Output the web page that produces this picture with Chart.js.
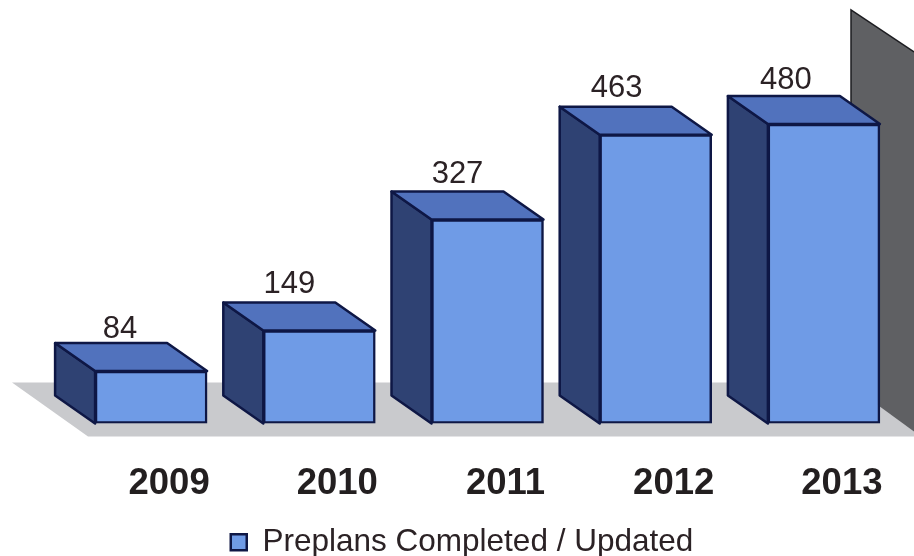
<!DOCTYPE html>
<html>
<head>
<meta charset="utf-8">
<title>Preplans</title>
<style>
  html, body { margin: 0; padding: 0; background: #fff; }
  canvas { display: block; }
</style>
<script src="https://cdn.jsdelivr.net/npm/chart.js@4/dist/chart.umd.min.js"></script>
</head>
<body>
<canvas id="myChart" width="914" height="556"></canvas>
<script>
const years = ["2009", "2010", "2011", "2012", "2013"];
const preplans = [84, 149, 327, 463, 480];
const seriesName = "Preplans Completed / Updated";

// how far the box goes back, in pixels
const depthX = 40;
const depthY = 28;
// the labels are not quite in line in the original
const labelShift = [-31, -30, -30, -39, -38];
const labelRaise = [14, 18, 17, 18, 16];

function poly(ctx, pts) {
  ctx.beginPath();
  pts.forEach((p, i) => (i ? ctx.lineTo(p[0], p[1]) : ctx.moveTo(p[0], p[1])));
  ctx.closePath();
}

const stage = {
  id: "stage",
  afterLayout(chart) {
    // legend sits lower than the layout wants to put it
    chart.legend.top += 12;
    chart.legend.bottom += 12;
  },
  beforeDatasetsDraw(chart) {
    const ctx = chart.ctx;
    const a = chart.chartArea;
    ctx.save();
    // floor
    ctx.fillStyle = "#c9cacd";
    poly(ctx, [[a.left - 55, a.bottom - 41], [914, a.bottom - 41], [914, a.bottom + 13], [a.left + 21, a.bottom + 13]]);
    ctx.fill();
    // back wall
    ctx.fillStyle = "#5f6063";
    poly(ctx, [[a.right - 57, a.top - 8], [914, a.top + 34], [914, a.bottom + 8], [a.right - 57, a.bottom - 38]]);
    ctx.fill();
    ctx.strokeStyle = "#1c1c20";
    ctx.lineWidth = 1.5;
    ctx.beginPath();
    ctx.moveTo(914, a.top + 34);
    ctx.lineTo(a.right - 57, a.top - 8);
    ctx.lineTo(a.right - 57, a.bottom - 40);
    ctx.stroke();
    ctx.restore();
  },
  afterDatasetsDraw(chart) {
    const ctx = chart.ctx;
    ctx.save();
    ctx.lineJoin = "round";
    ctx.strokeStyle = "#0e1745";
    ctx.lineWidth = 2.5;
    chart.getDatasetMeta(0).data.forEach((bar, i) => {
      const l = bar.x - bar.width / 2;
      const r = bar.x + bar.width / 2;
      const t = bar.y;
      const b = bar.base;
      // left side
      poly(ctx, [[l, t], [l - depthX, t - depthY], [l - depthX, b - depthY], [l, b]]);
      ctx.fillStyle = "#2f4273";
      ctx.fill();
      ctx.stroke();
      // top
      poly(ctx, [[l, t], [l - depthX, t - depthY], [r - depthX, t - depthY], [r, t]]);
      ctx.fillStyle = "#5172bd";
      ctx.fill();
      ctx.stroke();
      // value
      ctx.fillStyle = "#2b2225";
      ctx.font = "31px 'Liberation Sans'";
      ctx.textAlign = "center";
      ctx.textBaseline = "middle";
      ctx.fillText(preplans[i], bar.x + labelShift[i], t - depthY - labelRaise[i]);
    });
    ctx.restore();
  },
};

new Chart(document.getElementById("myChart").getContext("2d"), {
  type: "bar",
  data: {
    labels: years,
    datasets: [
      {
        label: seriesName,
        data: preplans,
        backgroundColor: "#6f9be6",
        borderColor: "#0e1745",
        borderWidth: 2.5,
        borderSkipped: false,
        barThickness: 112,
      },
    ],
  },
  plugins: [stage],
  options: {
    responsive: false,
    animation: false,
    layout: { padding: { left: 16, right: 6, top: 18, bottom: 0 } },
    plugins: {
      tooltip: { enabled: false },
      legend: {
        position: "bottom",
        labels: {
          color: "#2b2225",
          font: { family: "'Liberation Sans'", size: 31.5, lineHeight: 1 },
          boxWidth: 16,
          boxHeight: 16,
          padding: 0,
        },
      },
    },
    scales: {
      x: {
        grid: { display: false },
        border: { display: false },
        ticks: {
          color: "#231f20",
          font: { family: "'Liberation Sans'", size: 36.5, weight: "bold" },
          labelOffset: 18,
          padding: 31,
          maxRotation: 0,
        },
        afterFit(scale) {
          scale.height = 91;
        },
      },
      y: {
        min: 0,
        max: 650,
        grid: { display: false },
        border: { display: false },
        ticks: { display: false },
        afterFit(scale) {
          scale.width = 51;
        },
      },
    },
  },
});
</script>
</body>
</html>
